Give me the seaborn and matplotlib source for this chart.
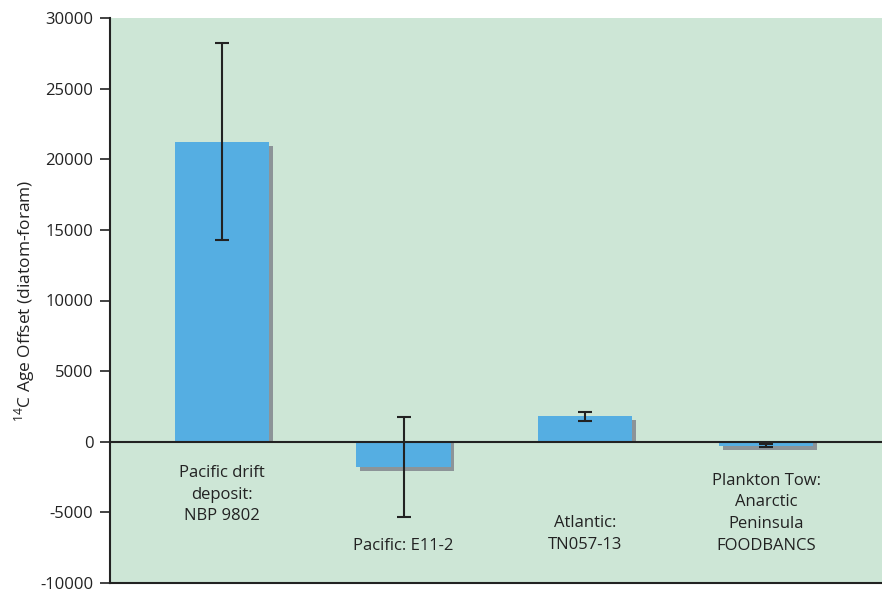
import numpy as np
import matplotlib
matplotlib.use("Agg")
import matplotlib.pyplot as plt
import seaborn as sns

# values
sites = ["Pacific drift\ndeposit:\nNBP 9802", "Pacific: E11-2",
         "Atlantic:\nTN057-13", "Plankton Tow:\nAnarctic\nPeninsula\nFOODBANCS"]
offsets = [21250, -1800, 1800, -280]
errors = [7000, 3550, 320, 90]
yticks = [-10000, -5000, 0, 5000, 10000, 15000, 20000, 25000, 30000]

# where the site names sit (y in data units)
label_y = [-3750, -7350, -6550, -5050]

sns.set_style("white")
plt.rcParams["font.family"] = ["Open Sans", "DejaVu Sans"]
plt.rcParams["mathtext.fontset"] = "custom"
plt.rcParams["mathtext.rm"] = "Open Sans"
plt.rcParams["axes.unicode_minus"] = False

fig, ax = plt.subplots(figsize=(8.82, 5.94), dpi=100)
fig.subplots_adjust(left=110/882, right=1.0, top=1-18/594, bottom=1-583/594)
ax.set_facecolor("#cde6d6")

# drop shadow: same bars, pushed a few pixels right and down
shadow = [v - 290 for v in offsets]
sns.barplot(x=sites, y=shadow, color="#8c9498", saturation=1, width=0.52,
            errorbar=None, ax=ax, zorder=1, linewidth=0)
for bar in ax.patches:
    bar.set_x(bar.get_x() + 0.02)

sns.barplot(x=sites, y=offsets, color="#55aee2", saturation=1, width=0.52,
            errorbar=None, ax=ax, zorder=2, linewidth=0)

ax.errorbar(np.arange(len(sites)), offsets, yerr=errors, fmt="none",
            ecolor="#222222", elinewidth=1.5, capsize=5, capthick=1.5, zorder=4)
ax.axhline(0, color="#222222", lw=1.5, zorder=3)

for i, name in enumerate(sites):
    ax.text(i, label_y[i], name, ha="center", va="center", fontsize=12,
            color="#222222", linespacing=1.47)

ax.set_xlim(-0.62, 3.64)
ax.set_ylim(-10000, 30000)
ax.set_yticks(yticks)
ax.tick_params(axis="y", direction="out", length=7, width=1.2, color="#222222",
               labelsize=12, labelcolor="#222222", left=True, pad=5)
ax.set_xticks([])
ax.set_xlabel("")
ax.set_ylabel(r"$^{14}$C Age Offset (diatom-foram)", fontsize=12.5, color="#222222", labelpad=2)

for s in ["top", "right"]:
    ax.spines[s].set_visible(False)
for s in ["left", "bottom"]:
    ax.spines[s].set_color("#222222")
    ax.spines[s].set_linewidth(1.5)

plt.savefig("out.png", dpi=100)
